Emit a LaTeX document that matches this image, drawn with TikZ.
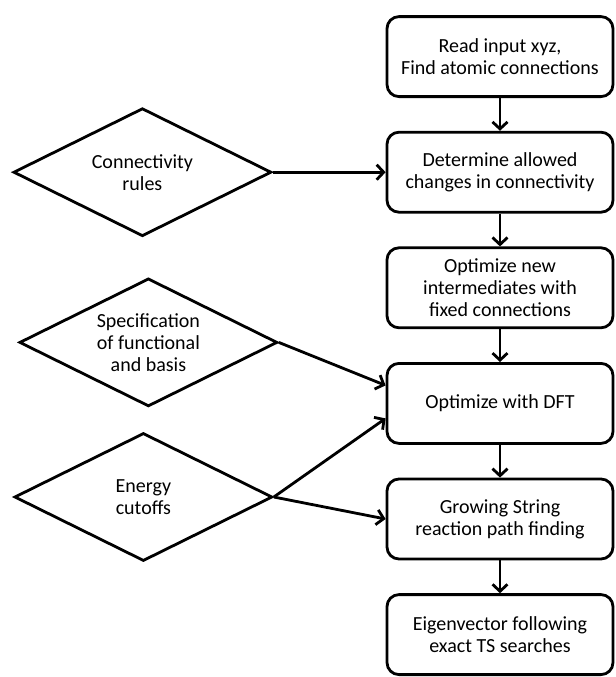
\documentclass[tikz,border=0pt]{standalone}
\usepackage{fontspec}
\setmainfont{Carlito}
\usepackage{tikz}
\usetikzlibrary{arrows, arrows.meta}
\usetikzlibrary{shapes.geometric}
\tikzstyle{process} = [rectangle, rounded corners=6pt, minimum width=113pt, minimum height=40pt, text centered, align=center, draw=black, line width=1.4pt]
\tikzstyle{decision} = [diamond, shape aspect=2, inner sep=0pt, minimum width=129pt, minimum height=64pt, text centered, align=center, draw=black, line width=1.4pt]
\tikzstyle{arrow} = [line width=1.4pt,-{Straight Barb[length=3.5pt,width=7.5pt]}]

\begin{document}
\begin{tikzpicture}[node distance=57.8pt, font=\fontsize{10}{11}\selectfont]
\useasboundingbox (0,0) rectangle (308pt,-338.5pt);
\node (xyz) [process] at (250pt,-28.3pt) {Read input xyz,\\Find atomic connections};
\node (allowed) [process, below of=xyz] {Determine allowed\\changes in connectivity};
\node (interm) [process, below of=allowed] {Optimize new\\intermediates with\\fixed connections};
\node (dft) [process, below of=interm] {Optimize with DFT};
\node (gsm) [process, below of=dft] {Growing String\\reaction path finding};
\node (eigen) [process, below of=gsm] {Eigenvector following\\exact TS searches};
\node (rules) [decision, left of=allowed, xshift=-121pt] {Connectivity\\rules};
\node (basis) [decision, left of=dft, xshift=-118pt, yshift=30.5pt] {Specification\\of functional\\and basis};
\node (cutoff) [decision, left of=gsm, xshift=-120.5pt, yshift=11pt] {Energy\\cutoffs};

\draw [arrow] (xyz) -- (allowed);
\draw [arrow] (allowed) -- (interm);
\draw [arrow] (interm) -- (dft);
\draw [arrow] (dft) -- (gsm);
\draw [arrow] (gsm) -- (eigen);
\draw [arrow] (rules.east) -- (allowed.west);
\draw [arrow] (basis.east) -- ([yshift=9pt]dft.west);
\draw [arrow] (cutoff.east) -- ([yshift=-7.5pt]dft.west);
\draw [arrow] (cutoff.east) -- (gsm.west);
\end{tikzpicture}
\end{document}
